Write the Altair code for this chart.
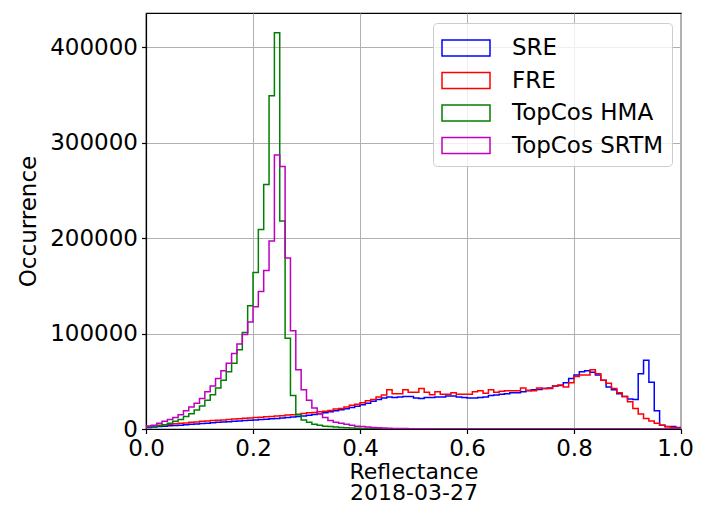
import altair as alt
import pandas as pd

# Histogram bins (left edges), bin width 0.01 from 0.0 to 1.0
bin_left = [round(i * 0.01, 2) for i in range(100)]
bin_end = 1.0

series_names = ["SRE", "FRE", "TopCos HMA", "TopCos SRTM"]
series_colors = ["#0000ff", "#ff0000", "#008000", "#bf00bf"]

# counts in thousands
sre_k = [1.5, 2, 2.5, 3, 3.3, 3.7, 4, 4.5, 5, 5.3,
         5.7, 6, 6.5, 7, 7.3, 7.7, 8, 8.5, 8.8, 9.2,
         9.5, 10, 10.3, 10.7, 11, 11.5, 12, 12.5, 13, 13.7,
         14.5, 15.2, 16, 17, 18, 19.2, 20.2, 21.3, 22.5, 23.8,
         25.3, 27, 29, 31, 32.5, 33.5, 33, 33.5, 34, 34,
         32.5, 32, 33, 33, 33.5, 33.5, 34.5, 34.5, 33.5, 33,
         32.5, 32.5, 33, 33.5, 35, 35.5, 36.5, 37, 38, 38,
         39, 40, 41, 41.5, 42.5, 43, 45, 45.5, 48.5, 53,
         56.5, 60, 61, 59.5, 56.5, 51, 44, 41, 37, 34,
         31.5, 31, 58, 72, 49, 19, 4, 2.5, 2.5, 1.5]

fre_k = [3, 3.5, 4, 4.5, 5, 5.5, 6, 6.4, 7, 7.4,
         8, 8.3, 8.8, 9.2, 9.5, 10, 10.5, 10.8, 11.2, 11.6,
         12, 12.3, 12.8, 13.2, 13.6, 14, 14.6, 15, 15.5, 16.2,
         17, 17.4, 18.2, 18.6, 19.5, 21, 21.5, 23, 25, 26,
         27.5, 29.5, 31, 33.5, 35.5, 41, 37, 37, 41, 38.5,
         38.5, 42.5, 38.5, 36, 39, 36.5, 36.5, 38, 36.5, 36.5,
         36.5, 39, 40, 37.5, 41, 38.5, 39.5, 40, 40, 40,
         43, 40.5, 40, 43, 42.5, 42.5, 45, 46, 44, 48.5,
         55, 56.5, 56.5, 62, 58, 51, 48, 42.5, 38, 34,
         28.6, 21.6, 15.7, 11, 8.4, 6, 3.8, 2.4, 1.7, 1]

hma_k = [2, 2.5, 3.5, 4.5, 6, 8, 10, 13, 16, 20,
         24, 30, 36, 43, 51, 60, 69, 83, 101, 129,
         164, 209, 256, 349, 415, 218, 95, 35, 15, 9.4,
         7, 5, 4, 3, 2.5, 2, 1.6, 1.3, 1, 0.8,
         0.6, 0.5, 0.4, 0.3, 0.25, 0.2, 0.15, 0.1, 0.1, 0.05,
         0, 0, 0, 0, 0, 0, 0, 0, 0, 0,
         0, 0, 0, 0, 0, 0, 0, 0, 0, 0,
         0, 0, 0, 0, 0, 0, 0, 0, 0, 0,
         0, 0, 0, 0, 0, 0, 0, 0, 0, 0,
         0, 0, 0, 0, 0, 0, 0, 0, 0, 0]

srtm_k = [3, 4, 6, 8, 10, 12, 15, 19, 23, 27,
          32, 39, 45, 53, 61, 69, 79, 89, 99, 112,
          128, 144, 166, 197, 287, 275, 179, 103, 62, 41,
          30, 22, 16, 12, 9, 7, 6, 5, 4, 3,
          2.5, 2, 1.6, 1.3, 1, 0.8, 0.6, 0.5, 0.4, 0.3,
          0.25, 0.2, 0.15, 0.1, 0.1, 0.05, 0, 0, 0, 0,
          0, 0, 0, 0, 0, 0, 0, 0, 0, 0,
          0, 0, 0, 0, 0, 0, 0, 0, 0, 0,
          0, 0, 0, 0, 0, 0, 0, 0, 0, 0,
          0, 0, 0, 0, 0, 0, 0, 0, 0, 0]

x_ticks = [0.0, 0.2, 0.4, 0.6, 0.8, 1.0]
y_ticks = [0, 100000, 200000, 300000, 400000]

rows = []
for name, vals in zip(series_names, [sre_k, fre_k, hma_k, srtm_k]):
    counts = [v * 1000 for v in vals]
    rows.append({"series": name, "x": 0.0, "y": 0.0, "idx": 0})
    for i, (xl, c) in enumerate(zip(bin_left, counts)):
        rows.append({"series": name, "x": xl, "y": c, "idx": i + 1})
    rows.append({"series": name, "x": bin_end, "y": counts[-1], "idx": 101})
    rows.append({"series": name, "x": bin_end, "y": 0.0, "idx": 102})
df = pd.DataFrame(rows)

FONT = "DejaVu Sans"
FS = 23

chart = alt.Chart(df).mark_line(interpolate="step-after", strokeWidth=1.5, clip=True).encode(
    x=alt.X("x:Q", scale=alt.Scale(domain=[0, 1], nice=False, zero=False),
            axis=alt.Axis(values=x_ticks, format=".1f", labelFlush=False,
                          labelOffset=alt.expr("datum.value >= 1 ? -6 : 0"),
                          title=["Reflectance", "2018-03-27"])),
    y=alt.Y("y:Q", scale=alt.Scale(domain=[0, 435750], nice=False),
            axis=alt.Axis(values=y_ticks, format="d", labelFlush=False, title="Occurrence")),
    color=alt.Color("series:N",
                    scale=alt.Scale(domain=series_names, range=series_colors),
                    legend=alt.Legend(title=None, orient="none", legendX=287, legendY=10,
                                      symbolType="M-1,-0.5L2,-0.5L2,0.5L-1,0.5Z",
                                      symbolSize=1024, symbolStrokeWidth=1.5,
                                      symbolFillColor="transparent",
                                      labelFont=FONT, labelFontSize=FS, labelColor="black",
                                      labelOffset=37, rowPadding=3.5, padding=8,
                                      cornerRadius=4, strokeColor="#cccccc",
                                      fillColor="rgba(255,255,255,0.8)")),
    detail="series:N",
    order="idx:Q",
).properties(
    width=535, height=416,
    padding={"left": 138, "top": 5, "right": 13, "bottom": 74},
    autosize=alt.AutoSizeParams(type="none"),
).configure_view(
    stroke="black", strokeWidth=1.2
).configure_axis(
    labelFont=FONT, labelFontSize=FS, labelColor="black",
    titleFont=FONT, titleFontSize=FS, titleFontWeight="normal", titleColor="black",
    gridColor="#b0b0b0", gridWidth=1, domainColor="black", domainWidth=1.2,
    tickColor="black", tickSize=4.5, tickWidth=1.2, labelPadding=4,
).configure_axisY(
    titlePadding=9
).configure_axisX(
    titlePadding=1, titleLineHeight=21, titleFontSize=22
)

chart.save("out.html", embed_options={"renderer": "svg", "actions": False})
